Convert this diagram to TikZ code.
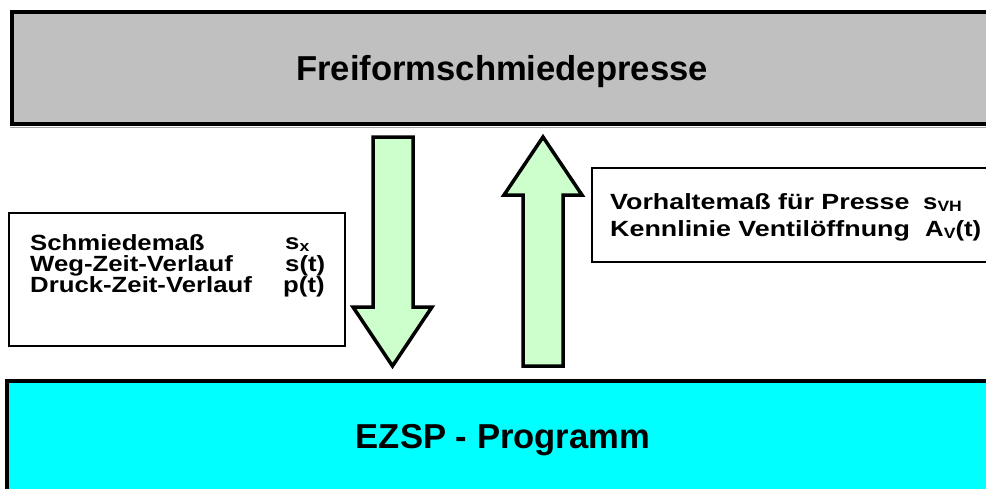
\documentclass[tikz,border=0pt]{standalone}
\usepackage{fontspec}
\setmainfont{Liberation Sans}
\usepackage{graphicx}
\definecolor{presse}{HTML}{C0C0C0}
\definecolor{ezsp}{HTML}{00FFFF}
\definecolor{arrowgreen}{HTML}{CCFFCC}
\newcommand{\widetext}[1]{\scalebox{1.17}[1]{#1}}
\newcommand{\widertext}[1]{\scalebox{1.22}[1]{#1}}
\newcommand{\lowsub}[1]{\raisebox{-2.5pt}{\fontsize{15}{15}\selectfont #1}}
\tikzset{
  bigbox/.style={draw=black, line width=4pt},
  infobox/.style={draw=black, line width=1.5pt, fill=white},
  fatarrow/.style={draw=black, fill=arrowgreen, line width=3.5pt, line join=miter},
  bigtext/.style={font=\fontsize{34.6}{40}\selectfont\bfseries, inner sep=0pt},
  smalltext/.style={font=\fontsize{22}{26}\selectfont\bfseries, inner sep=0pt, anchor=base west},
}
\begin{document}
\begin{tikzpicture}[x=1pt,y=-1pt]
\useasboundingbox (0,0) rectangle (986,488);
% top box
\draw[gray!70, line width=1.5pt] (10,127.5) -- (1000,127.5);
\draw[bigbox, fill=presse] (12,12) rectangle (1000,124);
\node[bigtext] (press) at (502,72) {Freiformschmiedepresse};
% bottom box
\draw[bigbox, fill=ezsp, line width=3.5pt] (7,381) rectangle (1000,500);
\node[bigtext] (prog) at (503,440) {EZSP - Programm};
% arrows
\draw[fatarrow] (373,137) -- (413,137) -- (413,307) -- (432,307) -- (392.5,366) -- (353,307) -- (373,307) -- cycle;
\draw[fatarrow] (523,366) -- (563,366) -- (563,195) -- (582,195) -- (543,137) -- (504,195) -- (523,195) -- cycle;
% left info box
\draw[infobox] (9,213) rectangle (345,346);
\node[smalltext] (l1) at (30,250) {\widetext{Schmiedemaß}};
\node[smalltext] (l2) at (30,271) {\widetext{Weg-Zeit-Verlauf}};
\node[smalltext] (l3) at (30,292) {\widetext{Druck-Zeit-Verlauf}};
\node[smalltext] (r1) at (285,249) {\widetext{s\lowsub{x}}};
\node[smalltext] (r2) at (285,271) {\widetext{s(t)}};
\node[smalltext] (r3) at (283,292) {\widetext{p(t)}};
% right info box
\draw[infobox] (592,168) rectangle (1000,262);
\node[smalltext] (v1) at (610,209) {\widertext{Vorhaltemaß für Presse}};
\node[smalltext] (v2) at (610,236) {\widertext{Kennlinie Ventilöffnung}};
\node[smalltext] (w1) at (923,209) {\widetext{s\lowsub{VH}}};
\node[smalltext] (w2) at (925,236) {\widetext{A\lowsub{V}(t)}};
\end{tikzpicture}
\end{document}
